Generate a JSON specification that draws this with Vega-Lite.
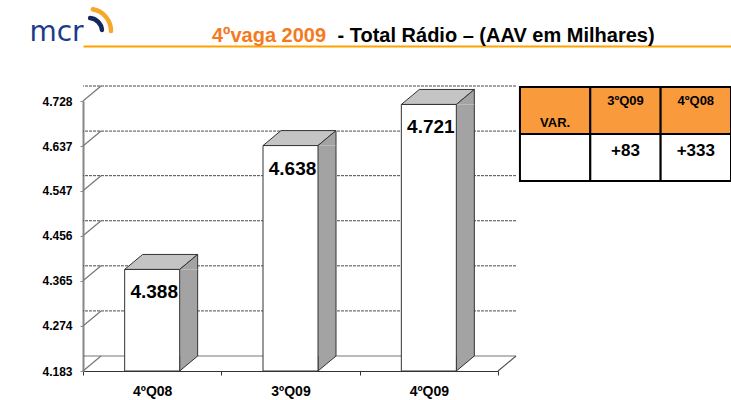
{
  "$schema": "https://vega.github.io/schema/vega-lite/v6.json",
  "width": 415,
  "height": 270,
  "autosize": "none",
  "padding": {"left": 83, "top": 101, "right": 233, "bottom": 29},
  "background": "white",
  "config": {"view": {"stroke": null}, "font": "Liberation Sans"},
  "title": {"text": "4ºvaga 2009", "anchor": "start", "frame": "group", "dx": 129, "offset": -46, "color": "#F47A20", "fontSize": 20, "fontWeight": "bold", "font": "Liberation Sans"},
  "resolve": {"scale": {"x": "independent", "y": "independent", "fill": "independent"}, "axis": {"x": "independent", "y": "independent"}},
  "layer": [
    {
      "data": {"values": [
        {"q": "4ºQ08", "v": 4.388},
        {"q": "3ºQ09", "v": 4.638},
        {"q": "4ºQ09", "v": 4.721}
      ]},
      "resolve": {"axis": {"x": "independent"}},
      "layer": [
        {
          "data": {"values": [{"t": 4.274}, {"t": 4.365}, {"t": 4.456}, {"t": 4.547}, {"t": 4.637}, {"t": 4.728}]},
          "mark": {"type": "rule", "xOffset": 18, "x2Offset": 18, "yOffset": -15, "stroke": "#4a4a4a", "strokeWidth": 1, "strokeDash": [3, 1]},
          "encoding": {"y": {"field": "t", "type": "quantitative", "scale": {"domain": [4.183, 4.728], "zero": false, "nice": false}}}
        },
        {
          "data": {"values": [{"t": 4.183}]},
          "mark": {"type": "rule", "xOffset": 18, "x2Offset": 18, "yOffset": -15, "stroke": "#777777", "strokeWidth": 1.2},
          "encoding": {"y": {"field": "t", "type": "quantitative"}}
        },
        {
          "data": {"values": [{"t": 4.183}, {"t": 4.274}, {"t": 4.365}, {"t": 4.456}, {"t": 4.547}, {"t": 4.637}, {"t": 4.728}]},
          "mark": {"type": "point", "shape": "M0,0L18,-15", "size": 4, "filled": false, "stroke": "#777777", "strokeWidth": 1.2, "opacity": 1},
          "encoding": {
            "x": {"datum": "4ºQ08", "type": "nominal", "bandPosition": 0,
              "axis": {"orient": "top", "offset": 55, "domainColor": "#FFA200", "domainWidth": 2, "ticks": false, "labels": false, "grid": false, "title": null}},
            "y": {"field": "t", "type": "quantitative"}
          }
        },
        {
          "data": {"values": [{"t": 4.183}]},
          "mark": {"type": "point", "shape": "M0,0L18,-15", "size": 4, "filled": false, "stroke": "#555555", "strokeWidth": 1.2, "opacity": 1},
          "encoding": {
            "x": {"datum": "4ºQ09", "type": "nominal", "bandPosition": 1, "axis": null},
            "y": {"field": "t", "type": "quantitative"}
          }
        },
        {
          "mark": {"type": "bar", "width": 18, "xOffset": 36.5, "y2Offset": -15, "fill": "#a3a3a3", "strokeWidth": 0},
          "encoding": {
            "x": {"field": "q", "type": "nominal", "sort": null, "axis": null},
            "y": {"field": "v", "type": "quantitative"},
            "y2": {"datum": 4.183}
          }
        },
        {
          "mark": {"type": "point", "shape": "M27.5,-15L27.5,0L45.5,-15", "size": 4, "filled": true, "fill": "#a3a3a3", "stroke": "#333333", "strokeWidth": 1, "opacity": 1},
          "encoding": {
            "x": {"field": "q", "type": "nominal", "sort": null, "axis": null},
            "y": {"datum": 4.183}
          }
        },
        {
          "mark": {"type": "rule", "xOffset": 45.5, "y2Offset": -15, "stroke": "#333333", "strokeWidth": 1},
          "encoding": {
            "x": {"field": "q", "type": "nominal", "sort": null, "axis": null},
            "y": {"field": "v", "type": "quantitative"},
            "y2": {"datum": 4.183}
          }
        },
        {
          "mark": {"type": "point", "shape": "M-27.5,0L-9.5,-15L45.5,-15L27.5,0Z", "size": 4, "filled": true, "fill": "#c4c4c4", "stroke": "#333333", "strokeWidth": 1, "opacity": 1},
          "encoding": {
            "x": {"field": "q", "type": "nominal", "sort": null, "axis": null},
            "y": {"field": "v", "type": "quantitative"}
          }
        },
        {
          "mark": {"type": "point", "shape": "M27.5,0L45.5,-15L45.5,0", "size": 4, "filled": true, "fill": "#a3a3a3", "stroke": "#333333", "strokeWidth": 1, "opacity": 1},
          "encoding": {
            "x": {"field": "q", "type": "nominal", "sort": null, "axis": null},
            "y": {"field": "v", "type": "quantitative"}
          }
        },
        {
          "mark": {"type": "bar", "width": 55, "fill": "white", "stroke": "#333333", "strokeWidth": 1},
          "encoding": {
            "x": {"field": "q", "type": "nominal", "sort": null,
              "scale": {"domain": ["4ºQ08", "3ºQ09", "4ºQ09"], "paddingInner": 0, "paddingOuter": 0},
              "axis": {"orient": "bottom", "title": null, "labelAngle": 0, "tickBand": "extent", "tickSize": 4, "tickColor": "#333333", "domainColor": "#333333", "domainWidth": 1, "labelFontSize": 14, "labelFontWeight": "bold", "labelColor": "black", "labelPadding": 9, "labelFont": "Liberation Sans"}},
            "y": {"field": "v", "type": "quantitative",
              "axis": {"orient": "left", "values": [4.183, 4.274, 4.365, 4.456, 4.547, 4.637, 4.728], "format": ".3f", "grid": false, "domainColor": "#888888", "domainWidth": 2, "tickColor": "#888888", "tickSize": 3, "labelFontSize": 12, "labelFontWeight": "bold", "labelColor": "black", "labelPadding": 8, "labelFont": "Liberation Sans",
                "title": "mcr", "titleAngle": 0, "titleAlign": "center", "titleBaseline": "alphabetic", "titleX": -27, "titleY": -61, "titleFontSize": 28, "titleFont": "DejaVu Sans", "titleFontWeight": "normal", "titleColor": "#1E3A8A"}},
            "y2": {"datum": 4.183}
          }
        },
        {
          "mark": {"type": "text", "dy": 29, "dx": 2, "baseline": "alphabetic", "fontSize": 19, "fontWeight": "bold", "color": "black", "font": "Liberation Sans"},
          "encoding": {
            "x": {"field": "q", "type": "nominal", "sort": null, "axis": null},
            "y": {"field": "v", "type": "quantitative"},
            "text": {"field": "v", "type": "quantitative", "format": ".3f"}
          }
        },
        {
          "data": {"values": [{"k": 1}]},
          "mark": {"type": "point", "shape": "M9.8,-91.7A22,22 0 0 1 28,-70", "size": 4, "filled": false, "stroke": "#F5A82A", "strokeWidth": 4.5, "strokeCap": "round", "opacity": 1},
          "encoding": {
            "x": {"datum": "4ºQ08", "type": "nominal", "bandPosition": 0, "axis": null},
            "y": {"datum": 4.728}
          }
        },
        {
          "data": {"values": [{"k": 1}]},
          "mark": {"type": "point", "shape": "M7.1,-82.9A13,13 0 0 1 18.9,-71.1", "size": 4, "filled": false, "stroke": "#14275E", "strokeWidth": 4.5, "strokeCap": "round", "opacity": 1},
          "encoding": {
            "x": {"datum": "4ºQ08", "type": "nominal", "bandPosition": 0, "axis": null},
            "y": {"datum": 4.728}
          }
        }
      ]
    },
    {
      "data": {"values": [
        {"col": "VAR.", "row": "head", "label": "VAR."},
        {"col": "3ºQ09", "row": "head", "label": "3ºQ09"},
        {"col": "4ºQ08", "row": "head", "label": "4ºQ08"},
        {"col": "VAR.", "row": "val", "label": ""},
        {"col": "3ºQ09", "row": "val", "label": "+83"},
        {"col": "4ºQ08", "row": "val", "label": "+333"}
      ]},
      "layer": [
        {
          "mark": {"type": "rect", "stroke": "black", "strokeWidth": 2},
          "encoding": {
            "x": {"field": "col", "type": "nominal", "sort": null,
              "scale": {"domain": ["VAR.", "3ºQ09", "4ºQ08"], "range": [415, 648], "paddingInner": 0, "paddingOuter": 0.156, "align": 1},
              "axis": {"orient": "top", "offset": 55, "domainColor": "#FFA200", "domainWidth": 2, "ticks": false, "labels": false, "grid": false,
                "title": "- Total Rádio – (AAV em Milhares)", "titleX": 254, "titleY": -5, "titleAlign": "left", "titleAnchor": "start", "titleBaseline": "alphabetic", "titleFontSize": 20, "titleFontWeight": "bold", "titleColor": "black", "titleFont": "Liberation Sans"}},
            "y": {"field": "row", "type": "nominal", "sort": null,
              "scale": {"domain": ["head", "val"], "range": [-14, 80], "paddingInner": 0, "paddingOuter": 0}, "axis": null},
            "fill": {"field": "row", "type": "nominal", "scale": {"domain": ["head", "val"], "range": ["#F99A3C", "#FFFFFF"]}, "legend": null}
          }
        },
        {
          "transform": [{"filter": "datum.row == 'head' && datum.col != 'VAR.'"}],
          "mark": {"type": "text", "baseline": "alphabetic", "fontSize": 13, "fontWeight": "bold", "color": "black", "font": "Liberation Sans"},
          "encoding": {
            "x": {"field": "col", "type": "nominal", "sort": null},
            "y": {"field": "row", "type": "nominal", "sort": null, "bandPosition": 0.39},
            "text": {"field": "label"}
          }
        },
        {
          "transform": [{"filter": "datum.row == 'head' && datum.col == 'VAR.'"}],
          "mark": {"type": "text", "baseline": "alphabetic", "fontSize": 13, "fontWeight": "bold", "color": "black", "font": "Liberation Sans"},
          "encoding": {
            "x": {"field": "col", "type": "nominal", "sort": null},
            "y": {"field": "row", "type": "nominal", "sort": null, "bandPosition": 0.85},
            "text": {"field": "label"}
          }
        },
        {
          "transform": [{"filter": "datum.row == 'val'"}],
          "mark": {"type": "text", "baseline": "alphabetic", "fontSize": 17, "fontWeight": "bold", "color": "black", "font": "Liberation Sans"},
          "encoding": {
            "x": {"field": "col", "type": "nominal", "sort": null},
            "y": {"field": "row", "type": "nominal", "sort": null, "bandPosition": 0.47},
            "text": {"field": "label"}
          }
        }
      ]
    }
  ]
}
